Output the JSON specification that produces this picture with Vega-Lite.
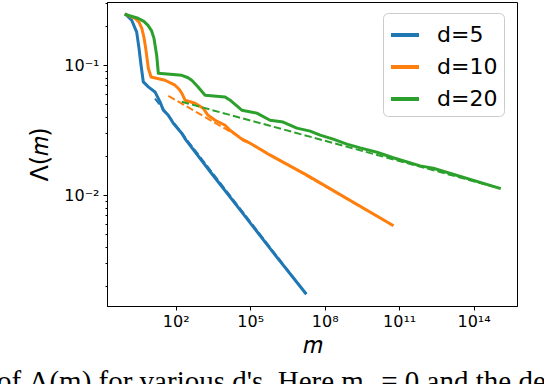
{
  "$schema": "https://vega.github.io/schema/vega-lite/v6.json",
  "width": 410,
  "height": 304,
  "autosize": {"type": "none"},
  "padding": {"left": 107, "top": 2, "right": 27, "bottom": 78},
  "background": "white",
  "title": {
    "text": "of Λ(m) for various d's. Here m₀ = 0 and the de",
    "orient": "bottom",
    "anchor": "start",
    "frame": "group",
    "dx": -110,
    "offset": 11,
    "baseline": "top",
    "font": "Liberation Serif",
    "fontSize": 29,
    "fontWeight": "normal",
    "color": "black"
  },
  "config": {
    "view": {"stroke": "black", "strokeWidth": 1},
    "axis": {
      "domainColor": "black",
      "tickColor": "black",
      "labelColor": "black",
      "titleColor": "black",
      "labelFont": "DejaVu Sans",
      "titleFont": "DejaVu Sans",
      "labelFontSize": 16,
      "titleFontSize": 24,
      "titleFontWeight": "normal",
      "grid": false
    },
    "legend": {
      "labelFont": "DejaVu Sans"
    }
  },
  "datasets": {
    "solid": [
      {"d": "d=5", "m": 1, "L": 0.245},
      {"d": "d=5", "m": 1.68, "L": 0.222},
      {"d": "d=5", "m": 2.67, "L": 0.18},
      {"d": "d=5", "m": 3.31, "L": 0.135},
      {"d": "d=5", "m": 4.0, "L": 0.1},
      {"d": "d=5", "m": 4.94, "L": 0.0744},
      {"d": "d=5", "m": 7.86, "L": 0.0681},
      {"d": "d=5", "m": 14.6, "L": 0.0623},
      {"d": "d=5", "m": 23.3, "L": 0.0522},
      {"d": "d=5", "m": 31.6, "L": 0.0451},
      {"d": "d=5", "m": 50.2, "L": 0.0412},
      {"d": "d=5", "m": 79.7, "L": 0.0358},
      {"d": "d=5", "m": 174, "L": 0.03},
      {"d": "d=5", "m": 260, "L": 0.0265},
      {"d": "d=5", "m": 2416, "L": 0.0152},
      {"d": "d=5", "m": 39170, "L": 0.0077},
      {"d": "d=5", "m": 837000, "L": 0.00362},
      {"d": "d=5", "m": 16800000, "L": 0.00176},
      {"d": "d=10", "m": 1, "L": 0.245},
      {"d": "d=10", "m": 2.29, "L": 0.23},
      {"d": "d=10", "m": 3.3, "L": 0.215},
      {"d": "d=10", "m": 4.26, "L": 0.193},
      {"d": "d=10", "m": 5.2, "L": 0.165},
      {"d": "d=10", "m": 6.17, "L": 0.135},
      {"d": "d=10", "m": 7.85, "L": 0.0948},
      {"d": "d=10", "m": 10.1, "L": 0.0813},
      {"d": "d=10", "m": 37, "L": 0.0767},
      {"d": "d=10", "m": 93.7, "L": 0.0702},
      {"d": "d=10", "m": 140, "L": 0.065},
      {"d": "d=10", "m": 175, "L": 0.0609},
      {"d": "d=10", "m": 237, "L": 0.0538},
      {"d": "d=10", "m": 600, "L": 0.051},
      {"d": "d=10", "m": 1262, "L": 0.0467},
      {"d": "d=10", "m": 2006, "L": 0.0412},
      {"d": "d=10", "m": 3845, "L": 0.0377},
      {"d": "d=10", "m": 9730, "L": 0.0345},
      {"d": "d=10", "m": 15480, "L": 0.0316},
      {"d": "d=10", "m": 51760, "L": 0.0265},
      {"d": "d=10", "m": 99100, "L": 0.0251},
      {"d": "d=10", "m": 634000, "L": 0.0203},
      {"d": "d=10", "m": 19100000, "L": 0.01425},
      {"d": "d=10", "m": 52700000000, "L": 0.00588},
      {"d": "d=20", "m": 1, "L": 0.245},
      {"d": "d=20", "m": 3.02, "L": 0.23},
      {"d": "d=20", "m": 5.2, "L": 0.218},
      {"d": "d=20", "m": 7.64, "L": 0.203},
      {"d": "d=20", "m": 10.5, "L": 0.185},
      {"d": "d=20", "m": 13.3, "L": 0.161},
      {"d": "d=20", "m": 17.1, "L": 0.119},
      {"d": "d=20", "m": 19.9, "L": 0.0868},
      {"d": "d=20", "m": 175, "L": 0.0837},
      {"d": "d=20", "m": 300, "L": 0.0805},
      {"d": "d=20", "m": 442, "L": 0.0767},
      {"d": "d=20", "m": 794, "L": 0.0681},
      {"d": "d=20", "m": 1518, "L": 0.0588},
      {"d": "d=20", "m": 9730, "L": 0.057},
      {"d": "d=20", "m": 15480, "L": 0.0538},
      {"d": "d=20", "m": 45800, "L": 0.0451},
      {"d": "d=20", "m": 184500, "L": 0.0428},
      {"d": "d=20", "m": 634000, "L": 0.0377},
      {"d": "d=20", "m": 2120000, "L": 0.0365},
      {"d": "d=20", "m": 7570000, "L": 0.0328},
      {"d": "d=20", "m": 26000000, "L": 0.0311},
      {"d": "d=20", "m": 65900000, "L": 0.029},
      {"d": "d=20", "m": 220000000, "L": 0.027},
      {"d": "d=20", "m": 786000000, "L": 0.0247},
      {"d": "d=20", "m": 2700000000, "L": 0.0231},
      {"d": "d=20", "m": 12700000000, "L": 0.0214},
      {"d": "d=20", "m": 57800000000, "L": 0.0194},
      {"d": "d=20", "m": 708000000000, "L": 0.0168},
      {"d": "d=20", "m": 2370000000000, "L": 0.0161},
      {"d": "d=20", "m": 1090000000000000, "L": 0.0113}
    ],
    "dashed": [
      {"d": "d=5", "m": 14.6, "L": 0.0554},
      {"d": "d=5", "m": 16800000, "L": 0.00176},
      {"d": "d=10", "m": 50.3, "L": 0.0581},
      {"d": "d=10", "m": 52700000000, "L": 0.00588},
      {"d": "d=20", "m": 175, "L": 0.0523},
      {"d": "d=20", "m": 1090000000000000, "L": 0.0113}
    ]
  },
  "layer": [
    {
      "data": {"name": "solid"},
      "mark": {"type": "line", "strokeWidth": 3, "strokeCap": "square", "strokeJoin": "round"},
      "encoding": {
        "x": {
          "field": "m", "type": "quantitative",
          "scale": {"type": "log", "domain": [0.17, 5.6e15], "nice": false},
          "axis": {
            "title": "𝑚",
            "titlePadding": 4,
            "values": [100, 100000, 100000000, 100000000000, 100000000000000],
            "labelExpr": "datum.value < 1000 ? '10²' : datum.value < 1e6 ? '10⁵' : datum.value < 1e9 ? '10⁸' : datum.value < 1e12 ? '10¹¹' : '10¹⁴'",
            "tickSize": 4,
            "labelPadding": 3,
            "labelFlush": false,
            "labelOverlap": false
          }
        },
        "y": {
          "field": "L", "type": "quantitative",
          "scale": {"type": "log", "domain": [0.0014, 0.307], "nice": false},
          "axis": {
            "title": "Λ(𝑚)",
            "titlePadding": 11,
            "values": [0.002, 0.003, 0.004, 0.005, 0.006, 0.007, 0.008, 0.009, 0.01, 0.02, 0.03, 0.04, 0.05, 0.06, 0.07, 0.08, 0.09, 0.1, 0.2, 0.3],
            "labelExpr": "datum.value == 0.1 ? '10⁻¹' : datum.value == 0.01 ? '10⁻²' : ''",
            "tickSize": {"condition": {"test": "datum.value == 0.1 || datum.value == 0.01", "value": 4}, "value": 2},
            "labelPadding": 4,
            "labelFlush": false,
            "labelOverlap": false
          }
        },
        "color": {
          "field": "d", "type": "nominal",
          "scale": {"domain": ["d=5", "d=10", "d=20"], "range": ["#1f77b4", "#ff7f0e", "#2ca02c"]},
          "legend": {
            "title": null,
            "orient": "none",
            "legendX": 276,
            "legendY": 11,
            "symbolType": "stroke",
            "symbolSize": 784,
            "symbolStrokeWidth": 4,
            "labelFontSize": 22,
            "labelOffset": 16,
            "rowPadding": 5,
            "padding": 6,
            "strokeColor": "#cccccc",
            "cornerRadius": 5,
            "fillColor": "white"
          }
        }
      }
    },
    {
      "data": {"name": "dashed"},
      "mark": {"type": "line", "strokeWidth": 2, "strokeDash": [7.4, 3.2]},
      "encoding": {
        "x": {"field": "m", "type": "quantitative"},
        "y": {"field": "L", "type": "quantitative"},
        "color": {"field": "d", "type": "nominal", "legend": null}
      }
    }
  ]
}
